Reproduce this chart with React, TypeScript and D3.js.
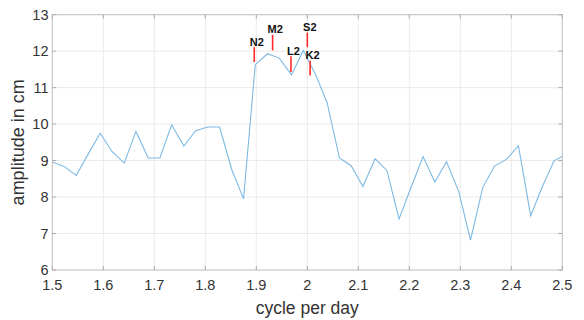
import React from "react";
import * as d3 from "d3";

const freqs = [1.5, 1.523, 1.547, 1.57, 1.594, 1.617, 1.641, 1.664, 1.688, 1.711, 1.734, 1.758, 1.781, 1.805, 1.828, 1.852, 1.875, 1.898, 1.922, 1.945, 1.969, 1.992, 2.016, 2.039, 2.063, 2.086, 2.109, 2.133, 2.156, 2.18, 2.203, 2.227, 2.25, 2.273, 2.297, 2.32, 2.344, 2.367, 2.391, 2.414, 2.438, 2.461, 2.484, 2.5];
const amps = [8.96, 8.84, 8.59, 9.17, 9.75, 9.25, 8.93, 9.8, 9.07, 9.07, 9.98, 9.4, 9.82, 9.92, 9.92, 8.75, 7.95, 11.63, 11.93, 11.81, 11.35, 12.02, 11.37, 10.58, 9.07, 8.86, 8.29, 9.05, 8.73, 7.4, 8.25, 9.11, 8.41, 8.97, 8.15, 6.82, 8.26, 8.85, 9.04, 9.41, 7.49, 8.29, 9.0, 9.11];

const constituents = ["N2", "M2", "L2", "S2", "K2"];
const constFreqs = [1.896, 1.932, 1.968, 2.0, 2.0055];
const constLow = [11.7, 12.02, 11.43, 12.11, 11.33];
const constHigh = [12.11, 12.45, 11.86, 12.51, 11.74];

const xTicks = [1.5, 1.6, 1.7, 1.8, 1.9, 2.0, 2.1, 2.2, 2.3, 2.4, 2.5];
const yTicks = [6, 7, 8, 9, 10, 11, 12, 13];

export default function App() {
  const W = 584, H = 320;
  const left = 52.3, right = 562.3, top = 14.7, bottom = 270;
  const x = d3.scaleLinear().domain([1.5, 2.5]).range([left, right]);
  const y = d3.scaleLinear().domain([6, 13]).range([bottom, top]);
  const line = d3.line<number>().x((_, i) => x(freqs[i])).y((d) => y(d));
  const tickLen = 4;
  const font = "Arial, 'Liberation Sans', sans-serif";
  return (
    <svg width={W} height={H} style={{ position: "absolute", left: 0, top: 0 }}>
      <rect width={W} height={H} fill="#fff" />
      {xTicks.map((t) => (
        <line key={"gx" + t} x1={x(t)} x2={x(t)} y1={top} y2={bottom} stroke="#ebebeb" strokeWidth={1} />
      ))}
      {yTicks.map((t) => (
        <line key={"gy" + t} x1={left} x2={right} y1={y(t)} y2={y(t)} stroke="#ebebeb" strokeWidth={1} />
      ))}
      <path d={line(amps) || ""} fill="none" stroke="#7db9e3" strokeWidth={1.1} />
      {constituents.map((c, i) => (
        <g key={c}>
          <line x1={x(constFreqs[i])} x2={x(constFreqs[i])} y1={y(constLow[i])} y2={y(constHigh[i])} stroke="#ff2a2a" strokeWidth={1.6} />
          <text x={x(constFreqs[i]) + 2.5} y={y(constHigh[i]) - 1.5} fontFamily={font} fontSize={11} fontWeight="bold" textAnchor="middle" fill="#111">{c}</text>
        </g>
      ))}
      <rect x={left} y={top} width={right - left} height={bottom - top} fill="none" stroke="#c4c4c4" strokeWidth={1} />
      {xTicks.map((t) => (
        <g key={"tx" + t}>
          <line x1={x(t)} x2={x(t)} y1={bottom} y2={bottom - tickLen} stroke="#aaa" />
          <line x1={x(t)} x2={x(t)} y1={top} y2={top + tickLen} stroke="#aaa" />
          <text x={x(t)} y={290} fontFamily={font} fontSize={14.5} textAnchor="middle" fill="#333">{d3.format("")(t)}</text>
        </g>
      ))}
      {yTicks.map((t) => (
        <g key={"ty" + t}>
          <line x1={left} x2={left + tickLen} y1={y(t)} y2={y(t)} stroke="#aaa" />
          <line x1={right} x2={right - tickLen} y1={y(t)} y2={y(t)} stroke="#aaa" />
          <text x={48.5} y={y(t) + 5.2} fontFamily={font} fontSize={14.5} textAnchor="end" fill="#333">{t}</text>
        </g>
      ))}
      <text x={(left + right) / 2} y={313.5} fontFamily={font} fontSize={17.5} textAnchor="middle" fill="#333">cycle per day</text>
      <text transform={`translate(24,${(top + bottom) / 2}) rotate(-90)`} fontFamily={font} fontSize={18} textAnchor="middle" fill="#333">amplitude in cm</text>
    </svg>
  );
}
